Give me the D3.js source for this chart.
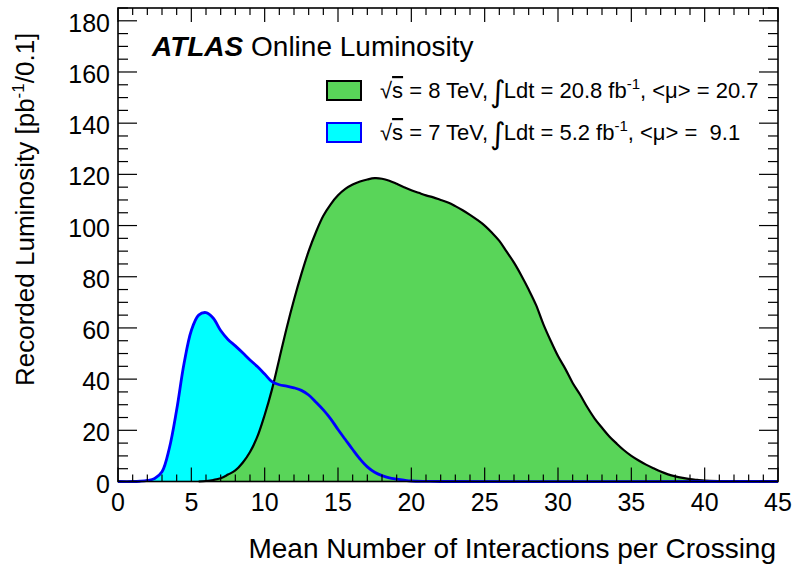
<!DOCTYPE html>
<html><head><meta charset="utf-8">
<script src="https://cdn.jsdelivr.net/npm/d3@7"></script>
<style>body{margin:0;background:#fff}svg{display:block}text{font-family:"Liberation Sans",Arial,sans-serif;fill:#000}</style>
</head><body>
<svg id="c" width="795" height="564"></svg>
<script>
// 8 TeV (2012) luminosity vs mu
const mu8 = [5.5,6,6.5,7,7.5,8,8.5,9,9.5,10,10.5,11,11.5,12,12.5,13,13.5,14,14.5,15,15.5,16,16.5,17,17.5,18,18.5,19,19.5,20,20.5,21,21.5,22,22.5,23,23.5,24,24.5,25,25.5,26,26.5,27,27.5,28,28.5,29,29.5,30,30.5,31,31.5,32,32.5,33,33.5,34,34.5,35,35.5,36,36.5,37,37.5,38,38.5,39,39.5,40,41,42,43,45];
const lumi8 = [0,0.2,0.6,1.3,2.7,4.3,7.3,11.5,17.5,26,36,48,60,71,81,90,97.5,103.8,108.3,111.8,114.3,116,117.2,118,118.5,118.3,117.5,116.3,115,113.8,112.8,111.8,111,110,109,107.6,106,104.2,102.2,100,97.2,94,89.8,85.5,80.5,75,69,61.5,55,49,44,38.5,34,29,24.6,21,17.6,14.8,12.2,10,8.2,6.6,5.2,3.9,2.8,2,1.4,0.9,0.6,0.35,0.15,0.05,0,0];
// 7 TeV (2011)
const mu7 = [0,1,1.5,2,2.5,3,3.5,4,4.5,5,5.5,6,6.5,7,7.5,8,8.5,9,9.5,10,10.5,11,11.5,12,12.5,13,13.5,14,14.5,15,15.5,16,16.5,17,17.5,18,18.5,19,19.5,20,21,22,45];
const lumi7 = [0,0,0.1,0.4,1.2,3.8,13,28,46,59,65,66,63.8,59,55.5,53,50.3,47.5,44.9,42,39,37.8,37.3,36.6,35.6,33.8,31,28,24.5,20.3,16.4,12.5,8.8,5.7,3.6,2.3,1.4,0.9,0.5,0.2,0.05,0,0];
const xTicks = [0,5,10,15,20,25,30,35,40,45];
const yTicks = [0,20,40,60,80,100,120,140,160,180];

const svg = d3.select('#c');
const L=118, R=778, T=8, B=481.5;
const x = d3.scaleLinear().domain([0,45]).range([L,R]);
const y = d3.scaleLinear().domain([0,185]).range([B,T]);

const d8 = mu8.map((m,i)=>[m,lumi8[i]]);
const d7 = mu7.map((m,i)=>[m,lumi7[i]]);
const crv = d3.curveCatmullRom.alpha(0.5);
const area = d3.area().x(d=>x(d[0])).y0(y(0)).y1(d=>Math.min(y(0),y(d[1]))).curve(crv);
const line = d3.line().x(d=>x(d[0])).y(d=>y(d[1])).curve(crv);

svg.append('path').attr('d',area(d7)).attr('fill','#00ffff');
svg.append('path').attr('d',area(d8)).attr('fill','#59d559');
svg.append('path').attr('d',line(d8)).attr('fill','none').attr('stroke','#000').attr('stroke-width',2.2);
svg.append('path').attr('d',line(d7)).attr('fill','none').attr('stroke','#0000ff').attr('stroke-width',2.8);

// frame
svg.append('rect').attr('x',L).attr('y',T).attr('width',R-L).attr('height',B-T).attr('fill','none').attr('stroke','#000').attr('stroke-width',1.6);

// ticks
const g = svg.append('g').attr('stroke','#000').attr('stroke-width',1.2);
d3.range(0,46,1).forEach(v=>{
  const len = (v%5===0)?14:7;
  g.append('line').attr('x1',x(v)).attr('x2',x(v)).attr('y1',B).attr('y2',B-len);
  g.append('line').attr('x1',x(v)).attr('x2',x(v)).attr('y1',T).attr('y2',T+len);
});
d3.range(0,186,5).forEach(v=>{
  const len = (v%20===0)?19:10;
  g.append('line').attr('y1',y(v)).attr('y2',y(v)).attr('x1',L).attr('x2',L+len);
  g.append('line').attr('y1',y(v)).attr('y2',y(v)).attr('x1',R).attr('x2',R-len);
});
svg.append('g').selectAll('text').data(xTicks).join('text')
  .attr('x',d=>x(d)).attr('y',511).attr('text-anchor','middle').attr('font-size',25).text(d=>d);
svg.append('g').selectAll('text').data(yTicks).join('text')
  .attr('x',110).attr('y',d=>y(d)+11).attr('text-anchor','end').attr('font-size',25).text(d=>d);

// axis titles
svg.append('text').attr('x',776).attr('y',558).attr('text-anchor','end').attr('font-size',28)
  .text('Mean Number of Interactions per Crossing');
const yt = svg.append('text').attr('transform','translate(34,386) rotate(-90)').attr('font-size',26);
yt.append('tspan').text('Recorded Luminosity [pb');
yt.append('tspan').attr('font-size',17).attr('dy',-10).text('-1');
yt.append('tspan').attr('dy',10).text('/0.1]');

// ATLAS label
const at = svg.append('text').attr('x',152).attr('y',56).attr('font-size',28);
at.append('tspan').attr('font-weight','bold').attr('font-style','italic').text('ATLAS');
at.append('tspan').text(' Online Luminosity');

// legend
const leg = [
  {fill:'#59d559',stroke:'#000',rs:'8',lumi:'20.8',mu:'20.7',y:81},
  {fill:'#00ffff',stroke:'#0000ff',rs:'7',lumi:'5.2',mu:' 9.1',y:123}
];
leg.forEach(e=>{
  svg.append('rect').attr('x',327).attr('y',e.y).attr('width',34).attr('height',19)
    .attr('fill',e.fill).attr('stroke',e.stroke).attr('stroke-width',2);
  const t = svg.append('text').attr('x',380).attr('y',e.y+17).attr('font-size',22).attr('xml:space','preserve');
  t.append('tspan').text('√');
  t.append('tspan').attr('text-decoration','overline').text('s');
  t.append('tspan').text(' = '+e.rs+' TeV,');
  t.append('tspan').attr('font-size',30).attr('dx',2).attr('dy',4).attr('font-family','DejaVu Sans').text('∫');
  t.append('tspan').attr('dx',-2).attr('dy',-4).text('Ldt = '+e.lumi+' fb');
  t.append('tspan').attr('font-size',15).attr('dy',-9).text('-1');
  t.append('tspan').attr('dy',9).text(', <μ> = '+e.mu);
});
</script>
</body></html>
